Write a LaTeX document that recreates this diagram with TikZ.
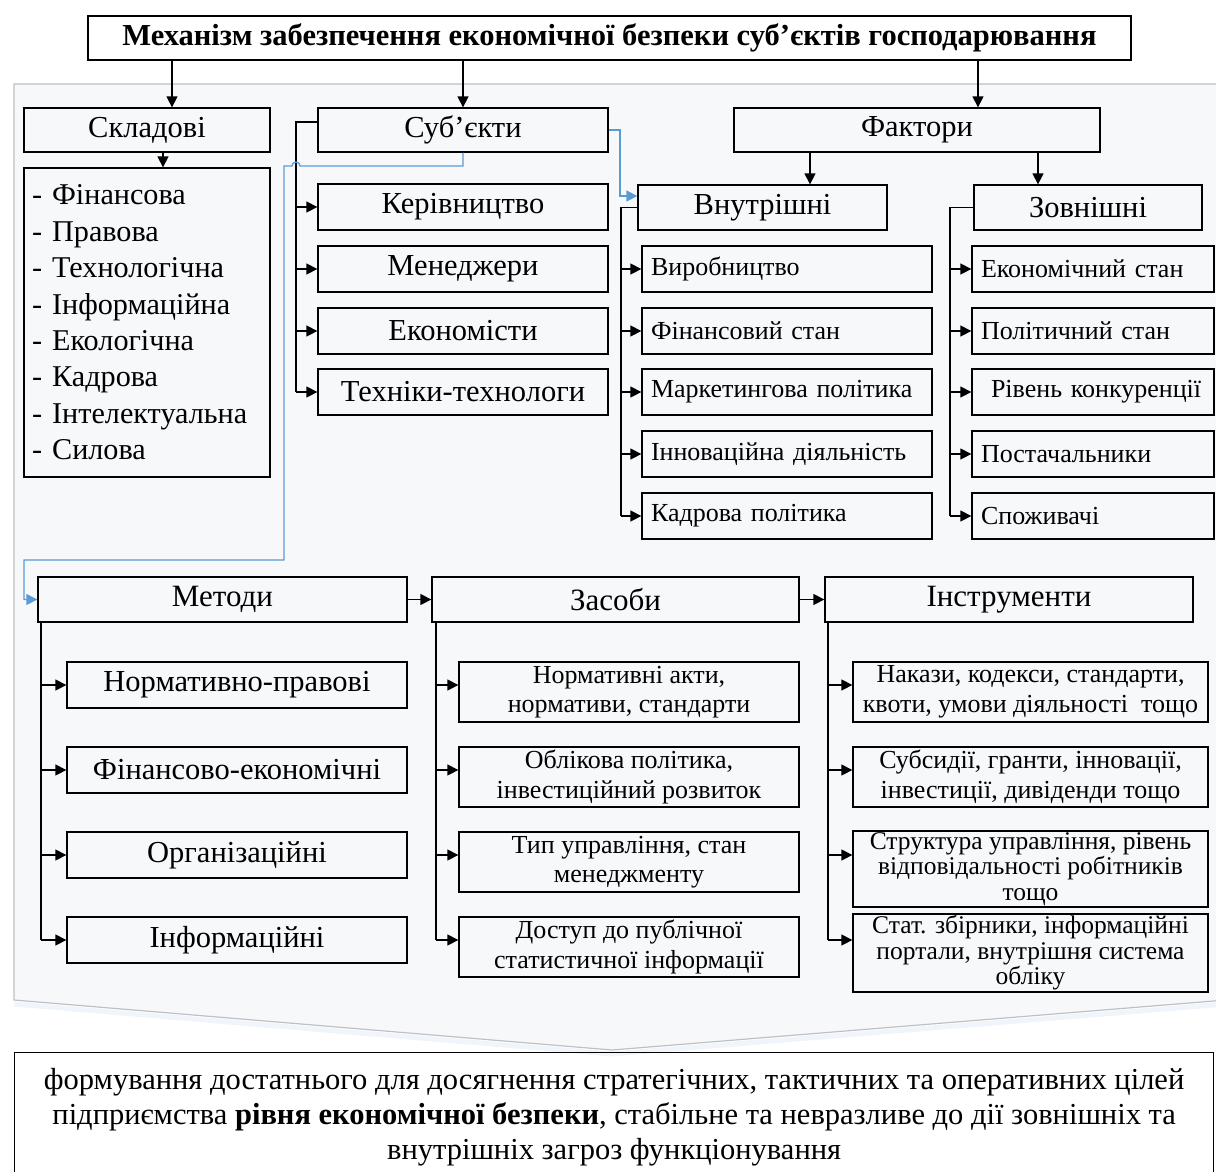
\documentclass[tikz,border=0pt]{standalone}
\usepackage{fontspec}
\setmainfont{Liberation Serif}
\usetikzlibrary{arrows.meta}
\definecolor{panelfill}{RGB}{247,248,250}
\definecolor{panelline}{RGB}{190,192,196}
\definecolor{linkblue}{RGB}{91,155,213}
\tikzset{
  box/.style={draw, line width=1.3pt, inner sep=0pt, font=\fontsize{30.5}{34}\selectfont},
  lbox/.style={box, align=left, text width=#1, inner xsep=9pt, font=\fontsize{26}{29}\selectfont},
  cbox/.style={box, align=center, font=\fontsize{26}{29.5}\selectfont},
  arr/.style={line width=1.3pt, -{Triangle[length=11pt,width=11pt]}},
  link/.style={linkblue, line width=1.3pt, -{Triangle[length=11pt,width=11pt]}},
}
\begin{document}
\begin{tikzpicture}[x=1pt,y=-1pt]
\useasboundingbox (0,0) rectangle (1216,1171);
% panel
\draw[linkblue!25, line width=5pt, opacity=.4] (14,1004) -- (612,1054) -- (1226,1004);
\draw[panelline, fill=panelfill, line width=1.2pt] (14,84) -- (1226,84) -- (1226,1000) -- (612,1050) -- (14,1000) -- cycle;
\node[box, font=\bfseries\fontsize{30.5}{34}\selectfont, minimum width=1043pt, minimum height=44pt] (title) at (609.5,38) {Механізм забезпечення економічної безпеки суб’єктів господарювання};
% first row
\node[box, minimum width=246pt, minimum height=44pt] (skl) at (147,130) {Складові};
\node[box, minimum width=290pt, minimum height=44pt] (sub) at (463,130) {Суб’єкти};
\node[box, minimum width=366pt, minimum height=44pt] (fak) at (917,130) {Фактори};
\node[box, align=left, text width=230pt, minimum width=246pt, minimum height=309pt, font=\fontsize{30.2}{36.4}\selectfont] (sklL) at (147,322.5)
  {- Фінансова\\- Правова\\- Технологічна\\- Інформаційна\\- Екологічна\\- Кадрова\\- Інтелектуальна\\- Силова};
\foreach \i/\y/\t in {1/207/Керівництво,2/269/Менеджери,3/331/Економісти,4/392/Техніки-технологи}
  \node[box, minimum width=290pt, minimum height=46pt] (sub\i) at (463,\y) {\t};
\node[box, minimum width=249pt, minimum height=45pt] (vnu) at (762.5,207.5) {Внутрішні};
\node[box, minimum width=228pt, minimum height=45pt] (zov) at (1088,207.5) {Зовнішні};
\foreach \i/\y/\t in {1/269/Виробництво,2/331/Фінансовий стан,3/392/Маркетингова політика,4/454/Інноваційна діяльність,5/516/Кадрова політика}
  \node[lbox=272pt, minimum height=46pt] (vnu\i) at (787,\y) {\t};
\foreach \i/\y/\t in {1/269/Економічний стан,2/331/Політичний стан,3/392/\hspace{10pt}Рівень конкуренції,4/454/Постачальники,5/516/Споживачі}
  \node[lbox=224pt, minimum height=46pt] (zov\i) at (1093,\y) {\t};
% second row
\node[box, font=\fontsize{31}{34}\selectfont, minimum width=369pt, minimum height=45pt] (met) at (222.5,599.5) {Методи};
\node[box, font=\fontsize{31}{34}\selectfont, minimum width=367pt, minimum height=45pt] (zas) at (615.5,599.5) {Засоби};
\node[box, font=\fontsize{31}{34}\selectfont, minimum width=368pt, minimum height=45pt] (ins) at (1009,599.5) {Інструменти};
\foreach \i/\y/\t in {1/685/Нормативно-правові,2/770/Фінансово-економічні,3/855/Організаційні,4/940/Інформаційні}
  \node[box, minimum width=340pt, minimum height=46pt] (met\i) at (237,\y) {\t};
\foreach \i/\y/\t in {1/692/{Нормативні акти,\\нормативи, стандарти},2/777/{Облікова політика,\\інвестиційний розвиток},3/862/{Тип управління, стан\\менеджменту},4/947/{Доступ до публічної\\статистичної інформації}}
  \node[cbox, minimum width=340pt, minimum height=60pt] (zas\i) at (629,\y) {\t};
\node[cbox, minimum width=355pt, minimum height=60pt] (ins1) at (1030.5,692) {Накази, кодекси, стандарти,\\квоти, умови діяльності~ тощо};
\node[cbox, minimum width=355pt, minimum height=60pt] (ins2) at (1030.5,777) {Субсидії, гранти, інновації,\\інвестиції, дивіденди тощо};
\node[cbox, font=\fontsize{25.5}{25.5}\selectfont, minimum width=355pt, minimum height=76pt] (ins3) at (1030.5,869) {Структура управління, рівень\\відповідальності робітників\\тощо};
\node[cbox, font=\fontsize{25.5}{25.5}\selectfont, minimum width=355pt, minimum height=78pt] (ins4) at (1030.5,953) {Стат. збірники, інформаційні\\портали, внутрішня система\\обліку};
\node[box, anchor=north west, align=center, minimum width=1199pt, minimum height=130pt, font=\fontsize{30.5}{35}\selectfont] (res) at (14,1052)
  {формування достатнього для досягнення стратегічних, тактичних та оперативних цілей\\підприємства \textbf{рівня економічної безпеки}, стабільне та невразливе до дії зовнішніх та\\внутрішніх загроз функціонування};
% arrows from the title
\coordinate (sklIn) at ([xshift=25pt]skl.north);
\coordinate (fakIn) at ([xshift=61pt]fak.north);
\coordinate (lstIn) at ([xshift=16pt]sklL.north);
\coordinate (vnuIn) at ([xshift=47.5pt]vnu.north);
\coordinate (zovIn) at ([xshift=-50pt]zov.north);
\draw[arr] (title.south -| sklIn) -- (sklIn);
\draw[arr] (title.south -| sub.north) -- (sub.north);
\draw[arr] (title.south -| fakIn) -- (fakIn);
\draw[arr] (skl.south -| lstIn) -- (lstIn);
\draw[arr] (fak.south -| vnuIn) -- (vnuIn);
\draw[arr] (fak.south -| zovIn) -- (zovIn);
% trees
\coordinate (subT) at (296,122);
\coordinate (vnuT) at (621,207.5);
\coordinate (zovT) at (950,207.5);
\coordinate (metT) at (41,622);
\coordinate (zasT) at (436,622);
\coordinate (insT) at (828,622);
\draw[line width=1.3pt] (sub.west |- subT) -- (subT) -- (subT |- sub4);
\foreach \i in {1,...,4} \draw[arr] (subT |- sub\i) -- (sub\i.west);
\draw[line width=1.3pt] (vnu.west) -- (vnuT) -- (vnuT |- vnu5);
\draw[line width=1.3pt] (zov.west) -- (zovT) -- (zovT |- zov5);
\foreach \i in {1,...,5} {\draw[arr] (vnuT |- vnu\i) -- (vnu\i.west); \draw[arr] (zovT |- zov\i) -- (zov\i.west);}
\draw[line width=1.3pt] (metT) -- (metT |- met4);
\draw[line width=1.3pt] (zasT) -- (zasT |- met4);
\draw[line width=1.3pt] (insT) -- (insT |- met4);
\foreach \i in {1,...,4} {\draw[arr] (metT |- met\i) -- (met\i.west); \draw[arr] (zasT |- met\i) -- (zas\i.west |- met\i); \draw[arr] (insT |- met\i) -- (ins\i.west |- met\i);}
\draw[arr] (met.east) -- (zas.west);
\draw[arr] (zas.east) -- (ins.west);
% blue links
\coordinate (bl1) at (620,196);
\coordinate (bl2) at (284,166);
\coordinate (bl3) at (24,560);
\draw[link] (sub.east) -| (bl1) -- (vnu.west |- bl1);
\draw[link] (sub.south) |- (300,166) arc[start angle=0,end angle=180,radius=4pt] -- (bl2) -- (bl2 |- bl3) -- (bl3) |- (met.west);
\end{tikzpicture}
\end{document}
